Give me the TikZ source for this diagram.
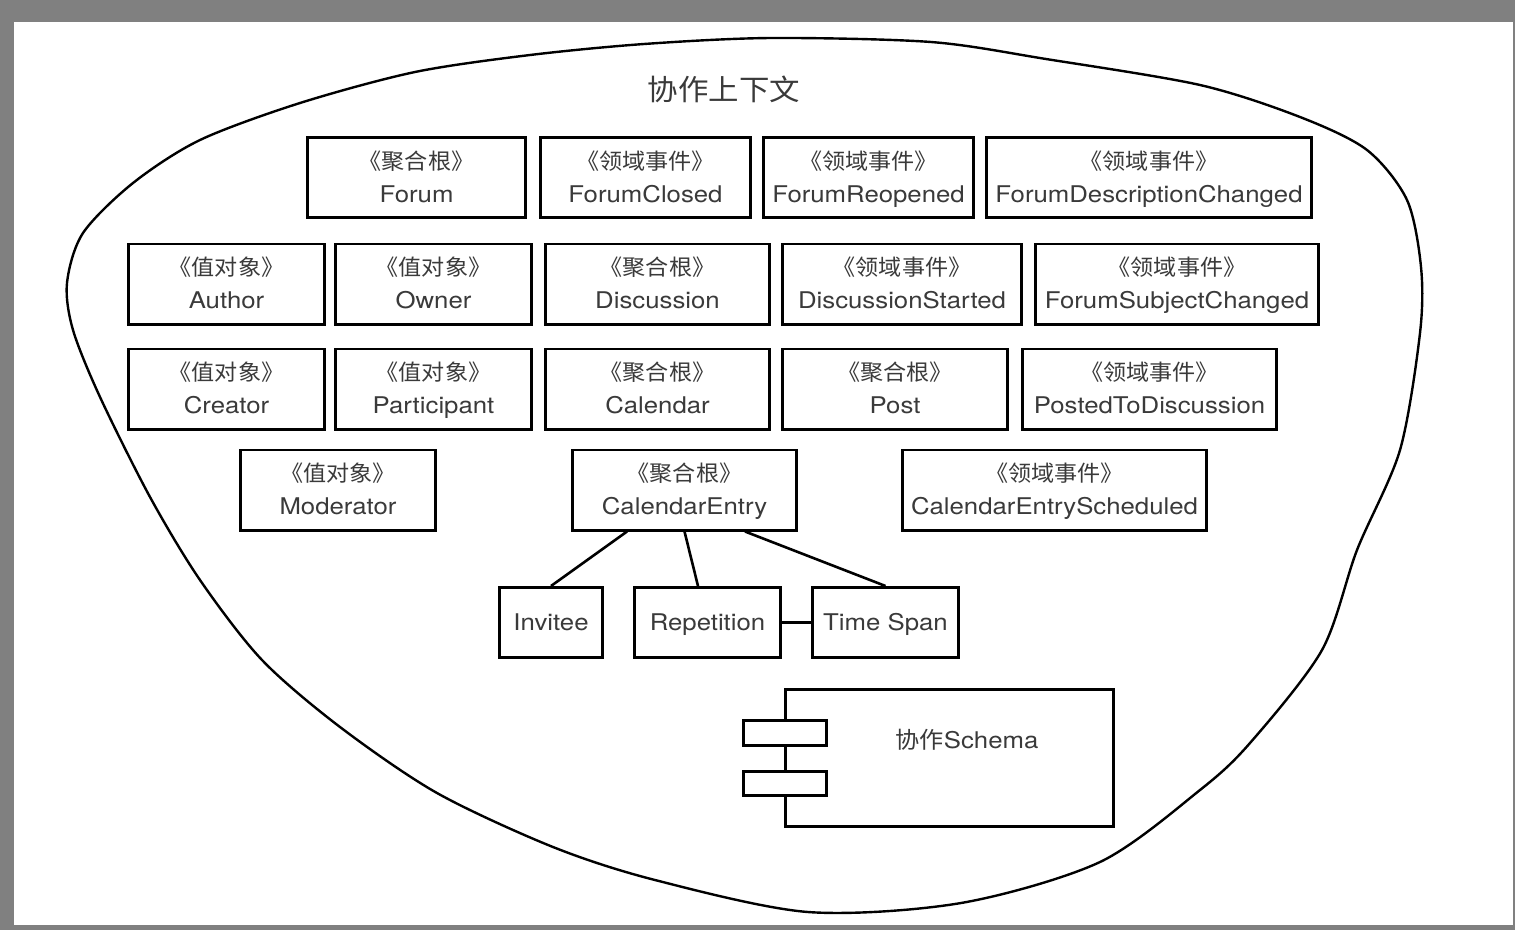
\documentclass[tikz,border=0pt]{standalone}
\usepackage{fontspec}
\setmainfont{TeX Gyre Heros}[FakeStretch=1.12]
\newfontfamily\cjk{Noto Sans CJK SC}[FakeStretch=1.05]
\usetikzlibrary{positioning,calc}
\definecolor{ScreenGray}{RGB}{128,128,128}
\definecolor{LabelGray}{RGB}{58,58,58}

\begin{document}
\begin{tikzpicture}[x=1pt, y=-1pt,
  box/.style={draw, line width=2.6pt, text=LabelGray, align=center, inner sep=0pt,
    font=\fontsize{23}{33}\selectfont, text height=49pt, text depth=0pt, minimum height=80.4pt},
  small/.style={draw, line width=2.6pt, text=LabelGray, inner sep=0pt,
    font=\fontsize{23}{28}\selectfont, text height=16.5pt, text depth=0pt, minimum height=70.4pt},
  port/.style={draw, fill=white, line width=2.6pt, inner sep=0pt, minimum width=83.4pt},
  link/.style={line width=2.6pt}]
  \useasboundingbox (0,0) rectangle (1515,930);
  % screen frame
  \fill[ScreenGray] (0,0) rectangle (1515,930);
  \fill[white] (14,22) rectangle (1513,925);

  % context boundary
  \draw[line width=2.4pt] plot[smooth cycle] coordinates {
    (771,38) (931,42) (1046,59) (1200,85) (1300,117) (1367,150) (1407,200)
    (1421,267) (1420,333) (1400,450) (1357,550) (1322,650) (1250,743)
    (1200,790) (1100,862) (961,903) (808,912) (655,880) (553,847) (437,793)
    (340,727) (262,660) (200,580) (150,497) (100,397) (73,330) (67,283)
    (83,233) (133,183) (200,140) (300,103) (415,72) (530,55) (644,44)};
  \node[text=LabelGray, font=\cjk\fontsize{29}{34}\selectfont] (title) at (724,89) {协作上下文};

  % row 1
  \foreach \id/\px/\bw/\kind/\txt in {
      forum/416.5/218.4/聚合根/Forum,
      forumClosed/645.5/210.4/领域事件/ForumClosed,
      forumReopened/868.5/210.4/领域事件/ForumReopened,
      forumDescChanged/1149/325.4/领域事件/ForumDescriptionChanged} {
    \node[box, minimum width=\bw] (\id) at (\px,177.5) {{\cjk\fontsize{22}{33}\selectfont 《\kind》}\\\txt};
  }
  % row 2
  \foreach \id/\px/\bw/\kind/\txt in {
      author/226.5/196.4/值对象/Author,
      owner/433.5/196.4/值对象/Owner,
      discussion/657.5/224.4/聚合根/Discussion,
      discussionStarted/902/239.4/领域事件/DiscussionStarted,
      forumSubjectChanged/1177/283.4/领域事件/ForumSubjectChanged} {
    \node[box, minimum width=\bw] (\id) at (\px,284) {{\cjk\fontsize{22}{33}\selectfont 《\kind》}\\\txt};
  }
  % row 3
  \foreach \id/\px/\bw/\kind/\txt in {
      creator/226.5/196.4/值对象/Creator,
      participant/433.5/196.4/值对象/Participant,
      calendar/657.5/224.4/聚合根/Calendar,
      post/895/225.4/聚合根/Post,
      postedToDiscussion/1149.5/254.4/领域事件/PostedToDiscussion} {
    \node[box, minimum width=\bw] (\id) at (\px,389) {{\cjk\fontsize{22}{33}\selectfont 《\kind》}\\\txt};
  }
  % row 4
  \foreach \id/\px/\bw/\kind/\txt in {
      moderator/338/195.4/值对象/Moderator,
      calendarEntry/684.5/224.4/聚合根/CalendarEntry,
      calendarEntryScheduled/1054.5/304.4/领域事件/CalendarEntryScheduled} {
    \node[box, minimum width=\bw] (\id) at (\px,490) {{\cjk\fontsize{22}{33}\selectfont 《\kind》}\\\txt};
  }

  % parts of the calendar entry
  \node[small, minimum width=103.4pt] (invitee) at (551,622.5) {Invitee};
  \node[small, minimum width=146.4pt] (repetition) at (707.5,622.5) {Repetition};
  \node[small, minimum width=146.4pt] (timeSpan) at (885.5,622.5) {Time Span};
  \draw[link] ([xshift=-57.5pt]calendarEntry.south) -- (invitee.north);
  \draw[link] (calendarEntry.south) -- ([xshift=-9.5pt]repetition.north);
  \draw[link] ([xshift=60.5pt]calendarEntry.south) -- (timeSpan.north);
  \draw[link] (repetition.east) -- (timeSpan.west);

  % schema component
  \node[draw, line width=2.6pt, minimum width=328.4pt, minimum height=137.4pt] (schema) at (949.5,758) {};
  \node[port, minimum height=25.4pt] (portA) at (785,733) {};
  \node[port, minimum height=24.4pt] (portB) at (785,783.5) {};
  \node[text=LabelGray, font=\fontsize{23}{28}\selectfont] (schemaName) at (967,740) {{\cjk 协作}Schema};
\end{tikzpicture}
\end{document}
